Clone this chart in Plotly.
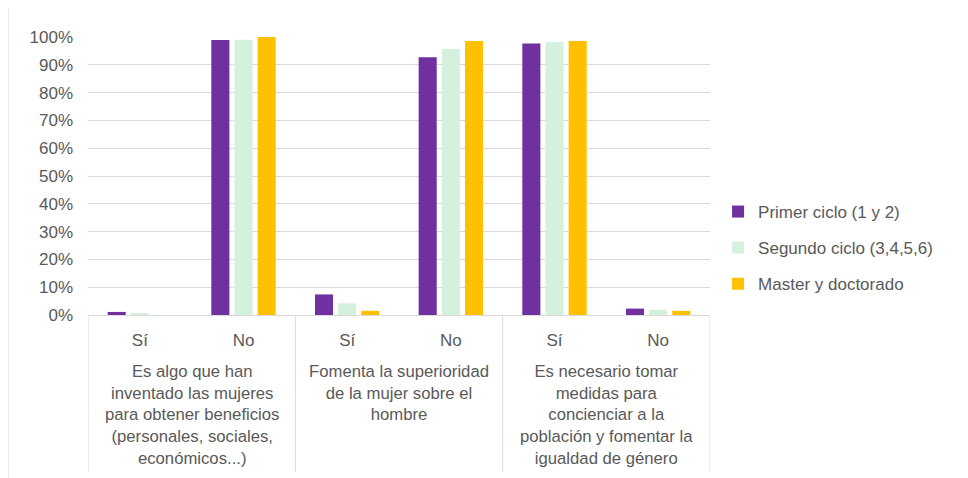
import plotly.graph_objects as go

groups = [
    "Es algo que han<br>inventado las mujeres<br>para obtener beneficios<br>(personales, sociales,<br>económicos...)",
    "Fomenta la superioridad<br>de la mujer sobre el<br>hombre",
    "Es necesario tomar<br>medidas para<br>concienciar a la<br>población y fomentar la<br>igualdad de género",
]
answers = ["Sí", "No"]
series_names = ["Primer ciclo (1 y 2)", "Segundo ciclo (3,4,5,6)", "Master y doctorado"]
primer = [1.1, 98.9, 7.4, 92.7, 97.7, 2.3]
segundo = [0.5, 99.0, 4.2, 95.7, 98.2, 1.9]
master = [0.0, 100.0, 1.5, 98.6, 98.6, 1.5]
colors = ["#7030A0", "#D5F0DD", "#FFC000"]

n_ans = len(answers)
pos = list(range(len(groups) * n_ans))
tick_text = [a for _ in groups for a in answers]

font_c = "#595959"
grid_c = "#D9D9D9"
FONT = "Liberation Sans, Arial, sans-serif"

fig = go.Figure()
for i, (name, vals, c) in enumerate(zip(series_names, [primer, segundo, master], colors)):
    fig.add_trace(go.Bar(x=pos, y=[v / 100 for v in vals], name=name,
                         legendgroup=f"g{i}",
                         marker=dict(color=c, line=dict(width=0))))

fig.update_layout(
    width=968, height=478,
    margin=dict(l=80, r=266, t=29, b=171),
    paper_bgcolor="white", plot_bgcolor="white",
    font=dict(family=FONT, size=17, color=font_c),
    barmode="group", bargap=0.33, bargroupgap=0.22,
    legend=dict(x=1.013, y=0.241, yanchor="middle", xanchor="left",
                font=dict(size=17, color=font_c), tracegroupgap=11,
                itemwidth=30, bgcolor="rgba(0,0,0,0)"),
    showlegend=True,
)
fig.update_yaxes(range=[0, 1], tickformat=".0%", dtick=0.1, showgrid=True,
                 gridcolor=grid_c, gridwidth=1, zeroline=False,
                 ticks="", showline=False, ticklabelstandoff=14,
                 tickfont=dict(size=17, color=font_c))
fig.update_xaxes(range=[-0.5, len(pos) - 0.5], tickvals=pos, ticktext=tick_text,
                 showline=True, linecolor=grid_c, linewidth=1, showgrid=False,
                 zeroline=False, ticks="", ticklabelstandoff=10,
                 tickfont=dict(size=17, color=font_c))

# group labels and dividers
bottom_paper = (315 - 472) / 278
for gi, g in enumerate(groups):
    center = gi * n_ans + (n_ans - 1) / 2
    fig.add_annotation(x=center, xref="x", y=0, yref="paper", yshift=-45,
                       yanchor="top", xanchor="center", text=g, showarrow=False,
                       align="center", font=dict(family=FONT, size=16.7, color=font_c))
for k in range(len(groups) + 1):
    xb = k * n_ans - 0.5
    fig.add_shape(type="line", xref="x", yref="paper", x0=xb, x1=xb,
                  y0=0, y1=bottom_paper, line=dict(color=grid_c, width=1))

# chart frame edge on the left
fig.add_shape(type="line", xref="paper", yref="paper",
              x0=-80 / 622, x1=-80 / 622, y0=-1.0, y1=1.2,
              line=dict(color=grid_c, width=1))
fig.write_html("out.html")
